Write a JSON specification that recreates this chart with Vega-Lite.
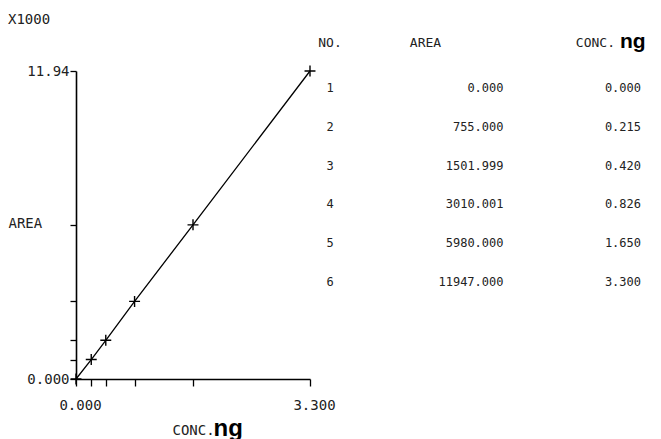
{
  "$schema": "https://vega.github.io/schema/vega-lite/v6.json",
  "background": "white",
  "padding": {"left": 8, "top": 12, "right": 5, "bottom": 5},
  "bounds": "flush",
  "spacing": 20,
  "config": {
    "view": {"stroke": null},
    "font": "DejaVu Sans Mono",
    "axis": {
      "grid": false,
      "domainColor": "black",
      "domainWidth": 1.6,
      "tickColor": "black",
      "tickWidth": 1.3,
      "labelColor": "#222",
      "labelFont": "DejaVu Sans Mono",
      "labelFontSize": 14,
      "titleFont": "DejaVu Sans Mono",
      "titleFontWeight": "normal",
      "titleFontSize": 14,
      "titleColor": "#222"
    }
  },
  "datasets": {
    "cal": [
      {"no": 1, "area": 0, "conc": 0},
      {"no": 2, "area": 755, "conc": 0.215},
      {"no": 3, "area": 1501.999, "conc": 0.42},
      {"no": 4, "area": 3010.001, "conc": 0.826},
      {"no": 5, "area": 5980, "conc": 1.65},
      {"no": 6, "area": 11947, "conc": 3.3}
    ],
    "head": [
      {"h": "NO."},
      {"h": "AREA"},
      {"h": "CONC."},
      {"h": "ng"}
    ]
  },
  "hconcat": [
    {
      "width": 234,
      "height": 308,
      "title": {"text": "X1000", "anchor": "start", "frame": "bounds", "offset": 36, "fontSize": 14, "fontWeight": "normal", "font": "DejaVu Sans Mono", "color": "#222"},
      "data": {"name": "cal"},
      "layer": [
        {
          "mark": {"type": "line", "color": "black", "strokeWidth": 1.3},
          "encoding": {
            "x": {"field": "conc", "type": "quantitative", "scale": {"domain": [0, 3.3], "nice": false},
              "axis": {"values": [0, 0.215, 0.42, 0.826, 1.65, 3.3], "labelExpr": "datum.value == 0 ? '0.000' : datum.value == 3.3 ? '3.300' : ''", "tickSize": 7, "labelPadding": 12, "labelOffset": 4, "title": "CONC.", "titleAlign": "left", "titleBaseline": "middle", "titleX": 96, "titleY": 51, "labelFlush": false}},
            "y": {"field": "area", "type": "quantitative", "scale": {"domain": [0, 11947], "nice": false},
              "axis": {"values": [0, 755, 1501.999, 3010.001, 5980, 11947], "labelExpr": "datum.value == 0 ? '0.000' : datum.value == 11947 ? '11.94' : ''", "tickSize": 6, "labelPadding": 1, "title": "AREA", "titleAngle": 0, "titleAlign": "left", "titleBaseline": "middle", "titleX": -68, "titleY": 152, "labelFlush": false}}
          }
        },
        {
          "mark": {"type": "point", "shape": "M-1,0L1,0M0,-1L0,1", "filled": false, "stroke": "black", "strokeWidth": 1.4, "size": 120, "opacity": 1},
          "encoding": {
            "x": {"field": "conc", "type": "quantitative",
              "axis": {"orient": "bottom", "domain": false, "ticks": false, "labels": false, "title": "ng", "titleFont": "Liberation Sans", "titleFontWeight": "bold", "titleFontSize": 24, "titleColor": "black", "titleAlign": "left", "titleBaseline": "middle", "titleX": 137, "titleY": 49}},
            "y": {"field": "area", "type": "quantitative"}
          }
        }
      ],
      "resolve": {"axis": {"x": "independent"}}
    },
    {
      "width": 311,
      "height": 308,
      "data": {"name": "cal"},
      "layer": [
        {
          "mark": {"type": "text", "align": "center", "baseline": "middle", "fontSize": 12, "color": "#222"},
          "encoding": {
            "x": {"datum": "NO.", "type": "nominal", "scale": {"type": "point", "domain": ["NO.", "AREA", "CONC."], "padding": 0}, "axis": null},
            "y": {"field": "no", "type": "quantitative", "scale": {"domain": [0.562, 8.5], "reverse": true, "nice": false, "zero": false}, "axis": null},
            "text": {"field": "no", "type": "quantitative", "format": "d"}
          }
        },
        {
          "mark": {"type": "text", "align": "right", "baseline": "middle", "fontSize": 12, "color": "#222", "dx": 18},
          "encoding": {
            "x": {"datum": "AREA", "type": "nominal"},
            "y": {"field": "no", "type": "quantitative"},
            "text": {"field": "area", "type": "quantitative", "format": ".3f"}
          }
        },
        {
          "mark": {"type": "text", "align": "right", "baseline": "middle", "fontSize": 12, "color": "#222"},
          "encoding": {
            "x": {"datum": "CONC.", "type": "nominal"},
            "y": {"field": "no", "type": "quantitative"},
            "text": {"field": "conc", "type": "quantitative", "format": ".3f"}
          }
        },
        {
          "data": {"name": "head"},
          "transform": [{"filter": "datum.h == 'NO.'"}],
          "mark": {"type": "text", "align": "center", "baseline": "middle", "fontSize": 13, "color": "#222"},
          "encoding": {
            "x": {"datum": "NO.", "type": "nominal"},
            "y": {"datum": -0.16, "type": "quantitative"},
            "text": {"field": "h", "type": "nominal"}
          }
        },
        {
          "data": {"name": "head"},
          "transform": [{"filter": "datum.h == 'AREA'"}],
          "mark": {"type": "text", "align": "center", "baseline": "middle", "fontSize": 13, "color": "#222", "dx": -60},
          "encoding": {
            "x": {"datum": "AREA", "type": "nominal"},
            "y": {"datum": -0.16, "type": "quantitative"},
            "text": {"field": "h", "type": "nominal"}
          }
        },
        {
          "data": {"name": "head"},
          "transform": [{"filter": "datum.h == 'CONC.'"}],
          "mark": {"type": "text", "align": "right", "baseline": "middle", "fontSize": 13, "color": "#222", "dx": -26},
          "encoding": {
            "x": {"datum": "CONC.", "type": "nominal"},
            "y": {"datum": -0.16, "type": "quantitative"},
            "text": {"field": "h", "type": "nominal"}
          }
        },
        {
          "data": {"name": "head"},
          "transform": [{"filter": "datum.h == 'ng'"}],
          "mark": {"type": "text", "align": "left", "baseline": "middle", "fontSize": 21, "font": "Liberation Sans", "fontWeight": "bold", "color": "black", "dx": -21, "dy": -1},
          "encoding": {
            "x": {"datum": "CONC.", "type": "nominal"},
            "y": {"datum": -0.16, "type": "quantitative"},
            "text": {"field": "h", "type": "nominal"}
          }
        }
      ]
    }
  ]
}
